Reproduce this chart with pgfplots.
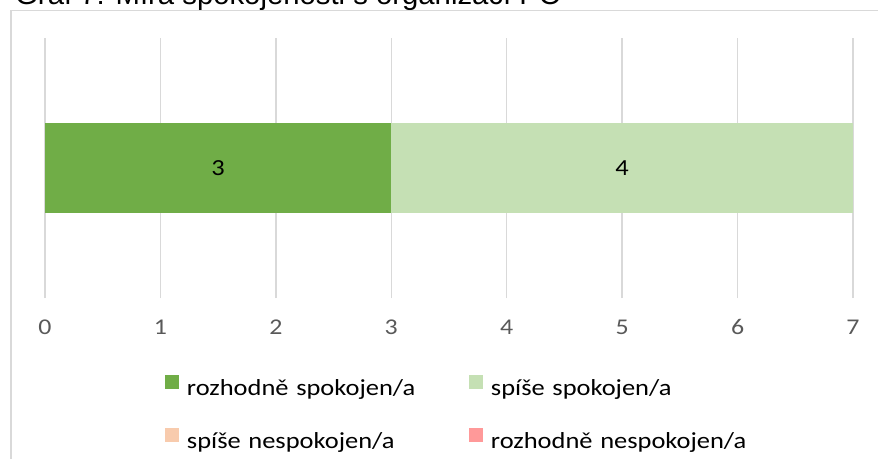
\documentclass[border=0pt]{standalone}
\usepackage{pgfplots}
\pgfplotsset{compat=1.18}
\usepackage{fontspec}
\setmainfont{Carlito}[FakeStretch=1.15]
\newfontfamily\titlefont{Liberation Sans}
\definecolor{c1}{HTML}{70AD47}
\definecolor{c2}{HTML}{C5E0B4}
\definecolor{c3}{HTML}{F8CBAD}
\definecolor{c4}{HTML}{FF9999}
\definecolor{gridc}{HTML}{D9D9D9}
\definecolor{tickc}{HTML}{595959}
\begin{document}
\begin{tikzpicture}[x=1pt,y=1pt]
\begin{axis}[
  at={(45pt,160pt)}, anchor=south west,
  scale only axis, width=808pt, height=260pt,
  xbar stacked, bar width=90pt,
  xmin=0, xmax=7, ymin=0, ymax=2,
  ytick=\empty, xtick={0,1,2,3,4,5,6,7},
  xmajorgrids, grid style={line width=1.5pt, color=gridc},
  axis line style={draw=none}, major tick length=0pt,
  /pgf/number format/assume math mode=true,
  tick label style={font=\fontsize{22.5}{26}\selectfont, color=tickc},
  xticklabel style={anchor=center, yshift=-29pt},
  point meta=explicit,
  every node near coord/.append style={font=\fontsize{23}{26}\selectfont, color=black},
  legend columns=2,
  legend cell align=left,
  legend image code/.code={\fill[#1] (0pt,1.5pt) rectangle (14.5pt,15.5pt);},
  legend style={draw=none, fill=none, inner sep=0pt, outer sep=0pt,
    at={(0.1485,-0.296)}, anchor=north west,
    font=\fontsize{23}{26}\selectfont, row sep=27.5pt,
    /tikz/every odd column/.append style={column sep=7.5pt},
    nodes={inner sep=0pt, text height=15.5pt, text depth=5pt, text width=282pt, align=left}},
]
\addplot[fill=c1, draw=none, nodes near coords] coordinates {(3,1) [3]};
\addplot[fill=c2, draw=none, nodes near coords] coordinates {(4,1) [4]};
\addplot[fill=c3, draw=none] coordinates {(0,1) [0]};
\addplot[fill=c4, draw=none] coordinates {(0,1) [0]};
\legend{rozhodně spokojen/a, spíše spokojen/a, spíše nespokojen/a, rozhodně nespokojen/a}
\end{axis}
\begin{scope}
\clip (0,0) rectangle (878,458);
\node[anchor=base west, inner sep=0pt, font=\titlefont\fontsize{29.3}{32}\selectfont] at (15,453) {Graf 7: Míra spokojenosti s organizací PO};
\draw[line width=1.5pt, color=gridc] (10.75,-5) -- (10.75,447.25) -- (890,447.25);
\end{scope}
\pgfresetboundingbox
\path[use as bounding box] (0,0) rectangle (878,458);
\end{tikzpicture}
\end{document}
